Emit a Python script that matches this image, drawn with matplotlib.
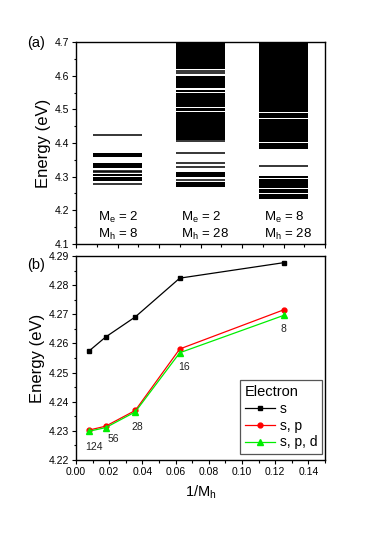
import matplotlib
matplotlib.use('Agg')
import matplotlib.pyplot as plt
import numpy as np
from matplotlib.ticker import MultipleLocator, FormatStrFormatter, NullFormatter

plt.rcParams['font.family'] = ['Liberation Sans', 'DejaVu Sans']
plt.rcParams['mathtext.fontset'] = 'custom'
plt.rcParams['mathtext.rm'] = 'Liberation Sans'
plt.rcParams['mathtext.it'] = 'Liberation Sans:italic'

# ---------------- Panel (a) data: energy levels (eV) ----------------
column_pos = [1, 3, 5]
Me_values = [2, 2, 8]
Mh_values = [8, 28, 28]

col1_levels = [4.423, 4.318, 4.313, 4.278]
col1_bands = [(4.357, 4.369), (4.325, 4.340), (4.302, 4.307), (4.287, 4.298)]

col2_levels = [4.615, 4.607, 4.405, 4.370, 4.340, 4.328, 4.290]
col2_bands = [(4.619, 4.700), (4.563, 4.598), (4.552, 4.558), (4.508, 4.548),
              (4.496, 4.503), (4.409, 4.491), (4.298, 4.315), (4.268, 4.284)]

col3_levels = [4.332]
col3_bands = [(4.492, 4.700), (4.474, 4.489), (4.403, 4.472), (4.381, 4.400),
              (4.296, 4.302), (4.267, 4.293), (4.251, 4.262), (4.235, 4.249)]

all_levels = [col1_levels, col2_levels, col3_levels]
all_bands = [col1_bands, col2_bands, col3_bands]

# ---------------- Panel (b) data ----------------
Mh = np.array([124, 56, 28, 16, 8])
inv_Mh = 1.0 / Mh
E_s = [4.2575, 4.2622, 4.2691, 4.2824, 4.2877]
E_sp = [4.2303, 4.2316, 4.2370, 4.2581, 4.2715]
E_spd = [4.2299, 4.2311, 4.2365, 4.2568, 4.2696]
series_labels = ['s', 's, p', 's, p, d']
point_labels = ['124', '56', '28', '16', '8']

fig = plt.figure(figsize=(3.74, 5.34), dpi=100)

def style_axes(ax):
    for sp in ax.spines.values():
        sp.set_linewidth(1.0)
    ax.tick_params(which='both', direction='out', top=False, right=False, width=0.8,
                   labelsize=7.5, pad=1.5)
    ax.tick_params(which='major', length=3.2)
    ax.tick_params(which='minor', length=1.8)

# ---- Panel (a)
axA = fig.add_axes([76/374, 1-244/534, 249/374, 202/534])
width = 1.18
for c, levels, bands in zip(column_pos, all_levels, all_bands):
    for lo, hi in bands:
        axA.bar(c, hi - lo, bottom=lo, width=width, color='black', linewidth=0)
    axA.hlines(levels, c - width/2, c + width/2, color='black', linewidth=1.1)

for c, me, mh in zip(column_pos, Me_values, Mh_values):
    axA.text(c - 0.47, 4.178, r'M$_\mathregular{e}$ = %d' % me, fontsize=9.5, va='center')
    axA.text(c - 0.47, 4.128, r'M$_\mathregular{h}$ = %d' % mh, fontsize=9.5, va='center')

axA.set_xlim(0, 6)
axA.set_ylim(4.1, 4.7)
axA.xaxis.set_major_locator(MultipleLocator(1))
axA.xaxis.set_minor_locator(MultipleLocator(0.5))
axA.xaxis.set_major_formatter(NullFormatter())
axA.yaxis.set_major_locator(MultipleLocator(0.1))
axA.yaxis.set_minor_locator(MultipleLocator(0.05))
axA.yaxis.set_major_formatter(FormatStrFormatter('%.1f'))
style_axes(axA)
axA.set_ylabel('Energy (eV)', fontsize=12, labelpad=3)
fig.text(27/374, 1-43/534, '(a)', fontsize=10.5, va='center')

# ---- Panel (b)
axB = fig.add_axes([76/374, 1-460/534, 249/374, 204/534])
axB.plot(inv_Mh, E_s, '-s', color='black', lw=0.9, markersize=3.3, label=series_labels[0])
axB.plot(inv_Mh, E_sp, '-o', color='#ff0000', lw=0.9, markersize=3.5, label=series_labels[1])
axB.plot(inv_Mh, E_spd, '-^', color='#00ee00', lw=0.9, markersize=3.8, label=series_labels[2])

offsets = [(5, -16), (8, -11), (2, -15), (4, -14), (0, -14)]
for x, y, lab, off in zip(inv_Mh, E_spd, point_labels, offsets):
    axB.annotate(lab, (x, y), xytext=off, textcoords='offset pixels',
                 fontsize=7.5, ha='center', va='center', color='#222222')

axB.set_xlim(0, 0.15)
axB.set_ylim(4.22, 4.29)
axB.xaxis.set_major_locator(MultipleLocator(0.02))
axB.xaxis.set_minor_locator(MultipleLocator(0.01))
axB.xaxis.set_major_formatter(FormatStrFormatter('%.2f'))
axB.yaxis.set_major_locator(MultipleLocator(0.01))
axB.yaxis.set_minor_locator(MultipleLocator(0.005))
axB.yaxis.set_major_formatter(FormatStrFormatter('%.2f'))
style_axes(axB)
axB.set_ylabel('Energy (eV)', fontsize=12, labelpad=3)
axB.set_xlabel(r'1/M$_\mathregular{h}$', fontsize=10.5, labelpad=5)
fig.text(27/374, 1-265/534, '(b)', fontsize=10.5, va='center')

leg = axB.legend(title='Electron', loc='lower right', bbox_to_anchor=(0.988, 0.028),
                 borderaxespad=0, fontsize=10, title_fontsize=10.5, numpoints=1,
                 handlelength=2.2, handletextpad=0.3, labelspacing=0.2,
                 fancybox=False, framealpha=1, borderpad=0.35)
leg.get_frame().set_edgecolor('#555555')
leg.get_frame().set_linewidth(0.9)
leg._legend_box.align = 'left'

fig.savefig('out.png', dpi=100)
